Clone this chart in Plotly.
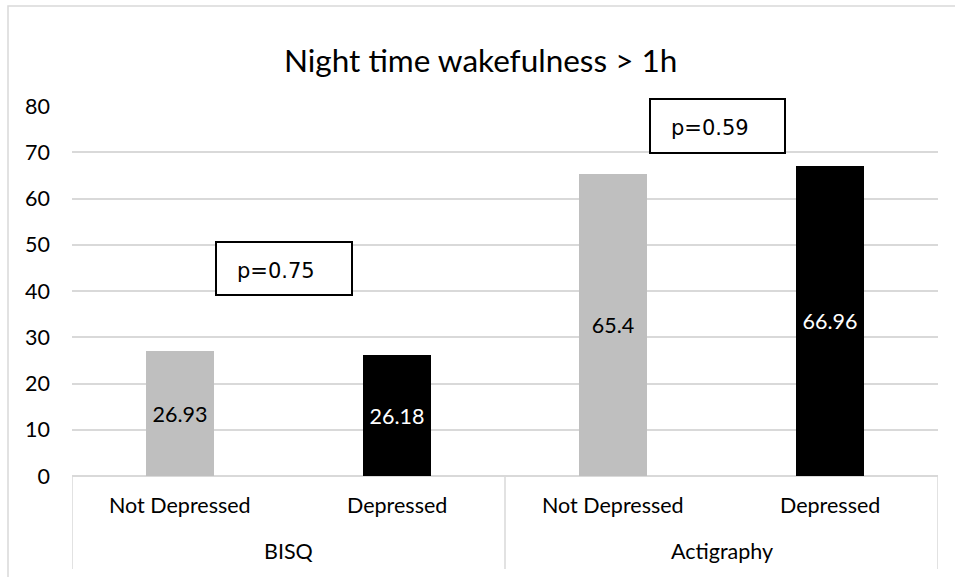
import plotly.graph_objects as go

# Night time wakefulness > 1h, by measurement method and depression status
groups = ["BISQ", "BISQ", "Actigraphy", "Actigraphy"]
status = ["Not Depressed", "Depressed", "Not Depressed", "Depressed"]
values = [26.93, 26.18, 65.4, 66.96]
bar_colors = ["#bfbfbf", "#000000", "#bfbfbf", "#000000"]
label_colors = ["#000000", "#ffffff", "#000000", "#ffffff"]
p_values = ["p=0.75", "p=0.59"]
y_ticks = [0, 10, 20, 30, 40, 50, 60, 70, 80]

FONT = "Lato"
GRID = "#d9d9d9"

W, H = 955, 577
L, R, T, B = 72, 17, 106, 101
PW, PH = W - L - R, H - T - B


def px(x):
    return (x - L) / PW


def py(y):
    return (H - B - y) / PH


xs = list(range(len(values)))

fig = go.Figure(
    go.Bar(
        x=xs,
        y=values,
        width=0.314,
        marker=dict(color=bar_colors, line=dict(width=0)),
        text=[f"{v:g}" for v in values],
        textposition="inside",
        insidetextanchor="middle",
        textangle=0,
        constraintext="none",
        textfont=dict(family=FONT, size=21.5, color=label_colors),
        hoverinfo="skip",
    )
)

shapes = []
annotations = []

# outer chart frame
shapes.append(dict(type="rect", xref="paper", yref="paper",
                   x0=px(8), x1=px(970), y0=py(600), y1=py(6),
                   line=dict(color="#d9d9d9", width=1.5), fillcolor="rgba(0,0,0,0)",
                   layer="below"))

# category axis dividers
group_names = []
for g in groups:
    if g not in group_names:
        group_names.append(g)
bounds = [-0.5]
for g in group_names:
    idx = [i for i, gg in enumerate(groups) if gg == g]
    bounds.append(max(idx) + 0.5)
for b in bounds:
    shapes.append(dict(type="line", xref="x", yref="paper", x0=b, x1=b,
                       y0=py(569), y1=0, line=dict(color=GRID, width=1.5)))

# inner category labels
for i, s in enumerate(status):
    annotations.append(dict(x=i, y=py(505), xref="x", yref="paper", text=s,
                            showarrow=False, yanchor="middle",
                            font=dict(family=FONT, size=21.5, color="#000000")))
# outer group labels
for g in group_names:
    idx = [i for i, gg in enumerate(groups) if gg == g]
    annotations.append(dict(x=sum(idx) / len(idx), y=py(551), xref="x", yref="paper",
                            text=g, showarrow=False, yanchor="middle",
                            font=dict(family=FONT, size=21.5, color="#000000")))

# p-value boxes
boxes = [(216, 352, 242, 295), (650, 785, 99, 153)]
for (x0, x1, y0, y1), p in zip(boxes, p_values):
    shapes.append(dict(type="rect", xref="paper", yref="paper",
                       x0=px(x0), x1=px(x1), y0=py(y1), y1=py(y0),
                       line=dict(color="#000000", width=2), fillcolor="#ffffff",
                       layer="above"))
    annotations.append(dict(x=px(x0 + 19), y=py((y0 + y1) / 2 + 2), xref="paper", yref="paper",
                            text=p, showarrow=False, xanchor="left", yanchor="middle",
                            font=dict(family="DejaVu Sans", size=21, color="#000000")))

# title
annotations.append(dict(x=px(480), y=py(60), xref="paper", yref="paper",
                        text="Night time wakefulness > 1h", showarrow=False,
                        xanchor="center", yanchor="middle",
                        font=dict(family=FONT, size=31.5, color="#000000")))

fig.update_layout(
    width=W, height=H,
    margin=dict(l=L, r=R, t=T, b=B, pad=0),
    paper_bgcolor="#ffffff", plot_bgcolor="#ffffff",
    showlegend=False,
    bargap=0,
    shapes=shapes,
    annotations=annotations,
    xaxis=dict(range=[-0.5, len(values) - 0.5], showticklabels=False, showgrid=False,
               zeroline=False, showline=False, fixedrange=True),
    yaxis=dict(range=[0, 80], tickvals=y_ticks, showgrid=True, gridcolor=GRID,
               gridwidth=1.5, zeroline=True, zerolinecolor=GRID, zerolinewidth=1.5,
               showline=False, ticks="", ticklabelstandoff=21,
               tickfont=dict(family=FONT, size=21.5, color="#000000"), fixedrange=True),
)

fig.write_html("out.html", config={"displayModeBar": False})
